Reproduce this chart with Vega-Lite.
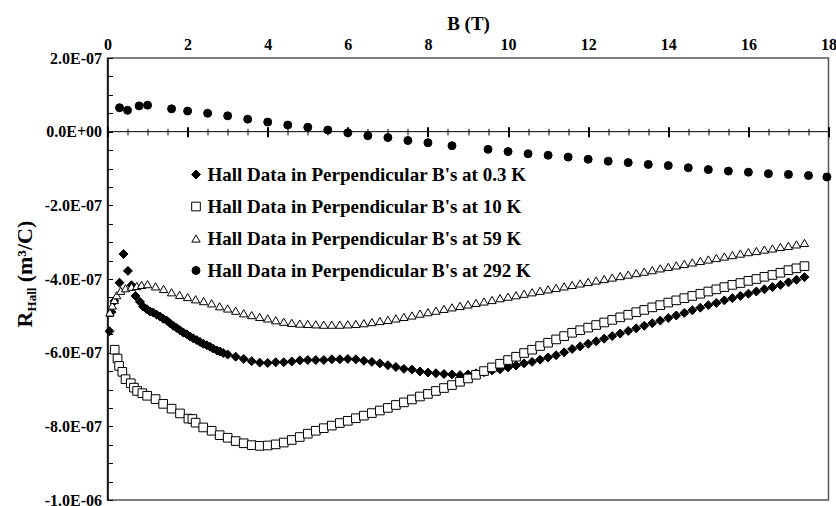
{
"$schema": "https://vega.github.io/schema/vega-lite/v6.json",
"width": 721, "height": 442,
"autosize": {"type": "none"},
"padding": {"left": 107.5, "top": 58, "right": 7.5, "bottom": 6},
"config": {
 "font": "Liberation Serif",
 "view": {"stroke": "#555555", "strokeWidth": 1.5},
 "axis": {"labelFont": "Liberation Serif", "titleFont": "Liberation Serif", "labelFontWeight": "bold", "titleFontWeight": "bold", "labelColor": "black", "titleColor": "black", "labelFontSize": 16, "titleFontSize": 19, "grid": false},
 "legend": {"labelFont": "Liberation Serif", "labelFontWeight": "bold", "labelFontSize": 19, "labelColor": "black", "symbolStrokeWidth": 1, "rowPadding": 12, "labelOffset": 2, "labelLimit": 600}
},
"data": {"values": [
{"s":"0.3 K","B":0.05,"R":-5.42e-7},{"s":"0.3 K","B":0.10,"R":-4.90e-7},{"s":"0.3 K","B":0.17,"R":-4.60e-7},{"s":"0.3 K","B":0.30,"R":-4.10e-7},{"s":"0.3 K","B":0.40,"R":-3.32e-7},{"s":"0.3 K","B":0.51,"R":-3.78e-7},{"s":"0.3 K","B":0.60,"R":-4.17e-7},{"s":"0.3 K","B":0.70,"R":-4.46e-7},{"s":"0.3 K","B":0.81,"R":-4.62e-7},{"s":"0.3 K","B":0.89,"R":-4.75e-7},{"s":"0.3 K","B":0.98,"R":-4.82e-7},{"s":"0.3 K","B":1.06,"R":-4.88e-7},{"s":"0.3 K","B":1.14,"R":-4.91e-7},{"s":"0.3 K","B":1.23,"R":-4.97e-7},{"s":"0.3 K","B":1.31,"R":-5.02e-7},{"s":"0.3 K","B":1.39,"R":-5.08e-7},{"s":"0.3 K","B":1.48,"R":-5.13e-7},{"s":"0.3 K","B":1.56,"R":-5.20e-7},{"s":"0.3 K","B":1.64,"R":-5.27e-7},{"s":"0.3 K","B":1.73,"R":-5.33e-7},{"s":"0.3 K","B":1.81,"R":-5.39e-7},{"s":"0.3 K","B":1.89,"R":-5.45e-7},{"s":"0.3 K","B":1.98,"R":-5.50e-7},{"s":"0.3 K","B":2.06,"R":-5.56e-7},{"s":"0.3 K","B":2.14,"R":-5.61e-7},{"s":"0.3 K","B":2.23,"R":-5.66e-7},{"s":"0.3 K","B":2.31,"R":-5.71e-7},{"s":"0.3 K","B":2.39,"R":-5.76e-7},{"s":"0.3 K","B":2.48,"R":-5.80e-7},{"s":"0.3 K","B":2.56,"R":-5.84e-7},{"s":"0.3 K","B":2.64,"R":-5.89e-7},{"s":"0.3 K","B":2.73,"R":-5.94e-7},{"s":"0.3 K","B":2.81,"R":-5.97e-7},{"s":"0.3 K","B":2.89,"R":-6.01e-7},{"s":"0.3 K","B":3.0,"R":-6.05e-7},{"s":"0.3 K","B":3.2,"R":-6.11e-7},{"s":"0.3 K","B":3.4,"R":-6.17e-7},{"s":"0.3 K","B":3.6,"R":-6.23e-7},{"s":"0.3 K","B":3.8,"R":-6.27e-7},{"s":"0.3 K","B":4.0,"R":-6.28e-7},{"s":"0.3 K","B":4.2,"R":-6.26e-7},{"s":"0.3 K","B":4.4,"R":-6.26e-7},{"s":"0.3 K","B":4.6,"R":-6.24e-7},{"s":"0.3 K","B":4.8,"R":-6.21e-7},{"s":"0.3 K","B":5.0,"R":-6.20e-7},{"s":"0.3 K","B":5.2,"R":-6.20e-7},{"s":"0.3 K","B":5.4,"R":-6.20e-7},{"s":"0.3 K","B":5.6,"R":-6.18e-7},{"s":"0.3 K","B":5.8,"R":-6.18e-7},{"s":"0.3 K","B":6.0,"R":-6.17e-7},{"s":"0.3 K","B":6.2,"R":-6.18e-7},{"s":"0.3 K","B":6.4,"R":-6.22e-7},{"s":"0.3 K","B":6.6,"R":-6.25e-7},{"s":"0.3 K","B":6.8,"R":-6.29e-7},{"s":"0.3 K","B":7.0,"R":-6.34e-7},{"s":"0.3 K","B":7.2,"R":-6.39e-7},{"s":"0.3 K","B":7.4,"R":-6.44e-7},{"s":"0.3 K","B":7.6,"R":-6.46e-7},{"s":"0.3 K","B":7.8,"R":-6.51e-7},{"s":"0.3 K","B":8.0,"R":-6.54e-7},{"s":"0.3 K","B":8.2,"R":-6.56e-7},{"s":"0.3 K","B":8.4,"R":-6.58e-7},{"s":"0.3 K","B":8.6,"R":-6.59e-7},{"s":"0.3 K","B":8.8,"R":-6.61e-7},{"s":"0.3 K","B":9.0,"R":-6.59e-7},{"s":"0.3 K","B":9.2,"R":-6.56e-7},{"s":"0.3 K","B":9.4,"R":-6.53e-7},{"s":"0.3 K","B":9.6,"R":-6.48e-7},{"s":"0.3 K","B":9.8,"R":-6.45e-7},{"s":"0.3 K","B":10.0,"R":-6.40e-7},{"s":"0.3 K","B":10.2,"R":-6.35e-7},{"s":"0.3 K","B":10.4,"R":-6.29e-7},{"s":"0.3 K","B":10.6,"R":-6.25e-7},{"s":"0.3 K","B":10.8,"R":-6.19e-7},{"s":"0.3 K","B":11.0,"R":-6.13e-7},{"s":"0.3 K","B":11.2,"R":-6.07e-7},{"s":"0.3 K","B":11.4,"R":-5.99e-7},{"s":"0.3 K","B":11.6,"R":-5.90e-7},{"s":"0.3 K","B":11.8,"R":-5.83e-7},{"s":"0.3 K","B":12.0,"R":-5.76e-7},{"s":"0.3 K","B":12.2,"R":-5.69e-7},{"s":"0.3 K","B":12.4,"R":-5.62e-7},{"s":"0.3 K","B":12.6,"R":-5.55e-7},{"s":"0.3 K","B":12.8,"R":-5.48e-7},{"s":"0.3 K","B":13.0,"R":-5.41e-7},{"s":"0.3 K","B":13.2,"R":-5.34e-7},{"s":"0.3 K","B":13.4,"R":-5.27e-7},{"s":"0.3 K","B":13.6,"R":-5.20e-7},{"s":"0.3 K","B":13.8,"R":-5.13e-7},{"s":"0.3 K","B":14.0,"R":-5.06e-7},{"s":"0.3 K","B":14.2,"R":-4.99e-7},{"s":"0.3 K","B":14.4,"R":-4.92e-7},{"s":"0.3 K","B":14.6,"R":-4.85e-7},{"s":"0.3 K","B":14.8,"R":-4.78e-7},{"s":"0.3 K","B":15.0,"R":-4.71e-7},{"s":"0.3 K","B":15.2,"R":-4.65e-7},{"s":"0.3 K","B":15.4,"R":-4.58e-7},{"s":"0.3 K","B":15.6,"R":-4.52e-7},{"s":"0.3 K","B":15.8,"R":-4.46e-7},{"s":"0.3 K","B":16.0,"R":-4.40e-7},{"s":"0.3 K","B":16.2,"R":-4.34e-7},{"s":"0.3 K","B":16.4,"R":-4.28e-7},{"s":"0.3 K","B":16.6,"R":-4.22e-7},{"s":"0.3 K","B":16.8,"R":-4.16e-7},{"s":"0.3 K","B":17.0,"R":-4.09e-7},{"s":"0.3 K","B":17.2,"R":-4.02e-7},{"s":"0.3 K","B":17.4,"R":-3.95e-7},
{"s":"10 K","B":0.18,"R":-5.92e-7},{"s":"10 K","B":0.25,"R":-6.16e-7},{"s":"10 K","B":0.29,"R":-6.36e-7},{"s":"10 K","B":0.37,"R":-6.52e-7},{"s":"10 K","B":0.45,"R":-6.72e-7},{"s":"10 K","B":0.58,"R":-6.83e-7},{"s":"10 K","B":0.66,"R":-6.95e-7},{"s":"10 K","B":0.74,"R":-7.04e-7},{"s":"10 K","B":0.87,"R":-7.10e-7},{"s":"10 K","B":0.99,"R":-7.17e-7},{"s":"10 K","B":1.2,"R":-7.26e-7},{"s":"10 K","B":1.39,"R":-7.39e-7},{"s":"10 K","B":1.6,"R":-7.52e-7},{"s":"10 K","B":1.81,"R":-7.65e-7},{"s":"10 K","B":2.02,"R":-7.79e-7},{"s":"10 K","B":2.12,"R":-7.80e-7},{"s":"10 K","B":2.2,"R":-7.90e-7},{"s":"10 K","B":2.39,"R":-8.03e-7},{"s":"10 K","B":2.6,"R":-8.12e-7},{"s":"10 K","B":2.8,"R":-8.24e-7},{"s":"10 K","B":3.0,"R":-8.31e-7},{"s":"10 K","B":3.2,"R":-8.40e-7},{"s":"10 K","B":3.4,"R":-8.46e-7},{"s":"10 K","B":3.6,"R":-8.51e-7},{"s":"10 K","B":3.8,"R":-8.53e-7},{"s":"10 K","B":4.0,"R":-8.52e-7},{"s":"10 K","B":4.2,"R":-8.49e-7},{"s":"10 K","B":4.4,"R":-8.44e-7},{"s":"10 K","B":4.6,"R":-8.37e-7},{"s":"10 K","B":4.8,"R":-8.29e-7},{"s":"10 K","B":5.0,"R":-8.20e-7},{"s":"10 K","B":5.2,"R":-8.12e-7},{"s":"10 K","B":5.4,"R":-8.05e-7},{"s":"10 K","B":5.6,"R":-7.98e-7},{"s":"10 K","B":5.8,"R":-7.91e-7},{"s":"10 K","B":6.0,"R":-7.85e-7},{"s":"10 K","B":6.2,"R":-7.78e-7},{"s":"10 K","B":6.4,"R":-7.71e-7},{"s":"10 K","B":6.6,"R":-7.64e-7},{"s":"10 K","B":6.8,"R":-7.57e-7},{"s":"10 K","B":7.0,"R":-7.50e-7},{"s":"10 K","B":7.2,"R":-7.42e-7},{"s":"10 K","B":7.4,"R":-7.35e-7},{"s":"10 K","B":7.6,"R":-7.27e-7},{"s":"10 K","B":7.8,"R":-7.19e-7},{"s":"10 K","B":8.0,"R":-7.12e-7},{"s":"10 K","B":8.2,"R":-7.04e-7},{"s":"10 K","B":8.4,"R":-6.96e-7},{"s":"10 K","B":8.6,"R":-6.88e-7},{"s":"10 K","B":8.8,"R":-6.79e-7},{"s":"10 K","B":9.0,"R":-6.70e-7},{"s":"10 K","B":9.2,"R":-6.60e-7},{"s":"10 K","B":9.4,"R":-6.50e-7},{"s":"10 K","B":9.6,"R":-6.40e-7},{"s":"10 K","B":9.8,"R":-6.30e-7},{"s":"10 K","B":10.0,"R":-6.20e-7},{"s":"10 K","B":10.2,"R":-6.11e-7},{"s":"10 K","B":10.4,"R":-6.01e-7},{"s":"10 K","B":10.6,"R":-5.92e-7},{"s":"10 K","B":10.8,"R":-5.82e-7},{"s":"10 K","B":11.0,"R":-5.73e-7},{"s":"10 K","B":11.2,"R":-5.64e-7},{"s":"10 K","B":11.4,"R":-5.55e-7},{"s":"10 K","B":11.6,"R":-5.46e-7},{"s":"10 K","B":11.8,"R":-5.39e-7},{"s":"10 K","B":12.0,"R":-5.32e-7},{"s":"10 K","B":12.2,"R":-5.25e-7},{"s":"10 K","B":12.4,"R":-5.18e-7},{"s":"10 K","B":12.6,"R":-5.11e-7},{"s":"10 K","B":12.8,"R":-5.04e-7},{"s":"10 K","B":13.0,"R":-4.97e-7},{"s":"10 K","B":13.2,"R":-4.90e-7},{"s":"10 K","B":13.4,"R":-4.84e-7},{"s":"10 K","B":13.6,"R":-4.77e-7},{"s":"10 K","B":13.8,"R":-4.71e-7},{"s":"10 K","B":14.0,"R":-4.64e-7},{"s":"10 K","B":14.2,"R":-4.58e-7},{"s":"10 K","B":14.4,"R":-4.52e-7},{"s":"10 K","B":14.6,"R":-4.46e-7},{"s":"10 K","B":14.8,"R":-4.40e-7},{"s":"10 K","B":15.0,"R":-4.34e-7},{"s":"10 K","B":15.2,"R":-4.28e-7},{"s":"10 K","B":15.4,"R":-4.22e-7},{"s":"10 K","B":15.6,"R":-4.16e-7},{"s":"10 K","B":15.8,"R":-4.11e-7},{"s":"10 K","B":16.0,"R":-4.05e-7},{"s":"10 K","B":16.2,"R":-4.00e-7},{"s":"10 K","B":16.4,"R":-3.94e-7},{"s":"10 K","B":16.6,"R":-3.89e-7},{"s":"10 K","B":16.8,"R":-3.83e-7},{"s":"10 K","B":17.0,"R":-3.76e-7},{"s":"10 K","B":17.2,"R":-3.71e-7},{"s":"10 K","B":17.4,"R":-3.65e-7},
{"s":"59 K","B":0.06,"R":-4.91e-7},{"s":"59 K","B":0.12,"R":-4.72e-7},{"s":"59 K","B":0.17,"R":-4.57e-7},{"s":"59 K","B":0.23,"R":-4.44e-7},{"s":"59 K","B":0.33,"R":-4.32e-7},{"s":"59 K","B":0.45,"R":-4.25e-7},{"s":"59 K","B":0.6,"R":-4.21e-7},{"s":"59 K","B":0.73,"R":-4.19e-7},{"s":"59 K","B":0.85,"R":-4.16e-7},{"s":"59 K","B":1.0,"R":-4.14e-7},{"s":"59 K","B":1.2,"R":-4.20e-7},{"s":"59 K","B":1.4,"R":-4.27e-7},{"s":"59 K","B":1.6,"R":-4.36e-7},{"s":"59 K","B":1.8,"R":-4.43e-7},{"s":"59 K","B":2.0,"R":-4.49e-7},{"s":"59 K","B":2.2,"R":-4.55e-7},{"s":"59 K","B":2.4,"R":-4.60e-7},{"s":"59 K","B":2.6,"R":-4.66e-7},{"s":"59 K","B":2.8,"R":-4.74e-7},{"s":"59 K","B":3.0,"R":-4.80e-7},{"s":"59 K","B":3.2,"R":-4.86e-7},{"s":"59 K","B":3.4,"R":-4.93e-7},{"s":"59 K","B":3.6,"R":-4.98e-7},{"s":"59 K","B":3.8,"R":-5.03e-7},{"s":"59 K","B":4.0,"R":-5.07e-7},{"s":"59 K","B":4.2,"R":-5.12e-7},{"s":"59 K","B":4.4,"R":-5.16e-7},{"s":"59 K","B":4.6,"R":-5.19e-7},{"s":"59 K","B":4.8,"R":-5.21e-7},{"s":"59 K","B":5.0,"R":-5.22e-7},{"s":"59 K","B":5.2,"R":-5.23e-7},{"s":"59 K","B":5.4,"R":-5.24e-7},{"s":"59 K","B":5.6,"R":-5.24e-7},{"s":"59 K","B":5.8,"R":-5.24e-7},{"s":"59 K","B":6.0,"R":-5.23e-7},{"s":"59 K","B":6.2,"R":-5.22e-7},{"s":"59 K","B":6.4,"R":-5.20e-7},{"s":"59 K","B":6.6,"R":-5.17e-7},{"s":"59 K","B":6.8,"R":-5.14e-7},{"s":"59 K","B":7.0,"R":-5.11e-7},{"s":"59 K","B":7.2,"R":-5.07e-7},{"s":"59 K","B":7.4,"R":-5.03e-7},{"s":"59 K","B":7.6,"R":-4.99e-7},{"s":"59 K","B":7.8,"R":-4.94e-7},{"s":"59 K","B":8.0,"R":-4.90e-7},{"s":"59 K","B":8.2,"R":-4.86e-7},{"s":"59 K","B":8.4,"R":-4.81e-7},{"s":"59 K","B":8.6,"R":-4.77e-7},{"s":"59 K","B":8.8,"R":-4.73e-7},{"s":"59 K","B":9.0,"R":-4.69e-7},{"s":"59 K","B":9.2,"R":-4.65e-7},{"s":"59 K","B":9.4,"R":-4.61e-7},{"s":"59 K","B":9.6,"R":-4.57e-7},{"s":"59 K","B":9.8,"R":-4.52e-7},{"s":"59 K","B":10.0,"R":-4.48e-7},{"s":"59 K","B":10.2,"R":-4.44e-7},{"s":"59 K","B":10.4,"R":-4.40e-7},{"s":"59 K","B":10.6,"R":-4.36e-7},{"s":"59 K","B":10.8,"R":-4.32e-7},{"s":"59 K","B":11.0,"R":-4.28e-7},{"s":"59 K","B":11.2,"R":-4.24e-7},{"s":"59 K","B":11.4,"R":-4.20e-7},{"s":"59 K","B":11.6,"R":-4.16e-7},{"s":"59 K","B":11.8,"R":-4.12e-7},{"s":"59 K","B":12.0,"R":-4.08e-7},{"s":"59 K","B":12.2,"R":-4.04e-7},{"s":"59 K","B":12.4,"R":-4.00e-7},{"s":"59 K","B":12.6,"R":-3.96e-7},{"s":"59 K","B":12.8,"R":-3.92e-7},{"s":"59 K","B":13.0,"R":-3.88e-7},{"s":"59 K","B":13.2,"R":-3.84e-7},{"s":"59 K","B":13.4,"R":-3.80e-7},{"s":"59 K","B":13.6,"R":-3.76e-7},{"s":"59 K","B":13.8,"R":-3.71e-7},{"s":"59 K","B":14.0,"R":-3.67e-7},{"s":"59 K","B":14.2,"R":-3.63e-7},{"s":"59 K","B":14.4,"R":-3.59e-7},{"s":"59 K","B":14.6,"R":-3.55e-7},{"s":"59 K","B":14.8,"R":-3.51e-7},{"s":"59 K","B":15.0,"R":-3.47e-7},{"s":"59 K","B":15.2,"R":-3.43e-7},{"s":"59 K","B":15.4,"R":-3.39e-7},{"s":"59 K","B":15.6,"R":-3.35e-7},{"s":"59 K","B":15.8,"R":-3.31e-7},{"s":"59 K","B":16.0,"R":-3.27e-7},{"s":"59 K","B":16.2,"R":-3.24e-7},{"s":"59 K","B":16.4,"R":-3.20e-7},{"s":"59 K","B":16.6,"R":-3.17e-7},{"s":"59 K","B":16.8,"R":-3.13e-7},{"s":"59 K","B":17.0,"R":-3.10e-7},{"s":"59 K","B":17.2,"R":-3.06e-7},{"s":"59 K","B":17.4,"R":-3.02e-7},
{"s":"292 K","B":0.3,"R":6.5e-8},{"s":"292 K","B":0.5,"R":5.8e-8},{"s":"292 K","B":0.79,"R":7.0e-8},{"s":"292 K","B":1.0,"R":7.2e-8},{"s":"292 K","B":1.6,"R":6.2e-8},{"s":"292 K","B":2.0,"R":5.6e-8},{"s":"292 K","B":2.5,"R":5.0e-8},{"s":"292 K","B":3.0,"R":4.3e-8},{"s":"292 K","B":3.5,"R":3.4e-8},{"s":"292 K","B":4.0,"R":2.6e-8},{"s":"292 K","B":4.5,"R":1.8e-8},{"s":"292 K","B":5.0,"R":1.2e-8},{"s":"292 K","B":5.5,"R":4.5e-9},{"s":"292 K","B":6.0,"R":-3e-9},{"s":"292 K","B":6.5,"R":-1.1e-8},{"s":"292 K","B":7.0,"R":-1.6e-8},{"s":"292 K","B":7.5,"R":-2.4e-8},{"s":"292 K","B":8.0,"R":-3.0e-8},{"s":"292 K","B":8.6,"R":-3.8e-8},{"s":"292 K","B":9.5,"R":-4.8e-8},{"s":"292 K","B":10.0,"R":-5.4e-8},{"s":"292 K","B":10.5,"R":-6.0e-8},{"s":"292 K","B":11.0,"R":-6.4e-8},{"s":"292 K","B":11.5,"R":-6.9e-8},{"s":"292 K","B":12.0,"R":-7.5e-8},{"s":"292 K","B":12.5,"R":-8.0e-8},{"s":"292 K","B":13.0,"R":-8.4e-8},{"s":"292 K","B":13.5,"R":-8.9e-8},{"s":"292 K","B":14.0,"R":-9.2e-8},{"s":"292 K","B":14.5,"R":-9.8e-8},{"s":"292 K","B":15.0,"R":-1.03e-7},{"s":"292 K","B":15.5,"R":-1.07e-7},{"s":"292 K","B":16.0,"R":-1.10e-7},{"s":"292 K","B":16.5,"R":-1.14e-7},{"s":"292 K","B":17.0,"R":-1.16e-7},{"s":"292 K","B":17.5,"R":-1.19e-7},{"s":"292 K","B":17.96,"R":-1.23e-7}
]},
"layer": [
 {
  "mark": {"type": "point", "filled": true, "strokeWidth": 1, "opacity": 1},
  "encoding": {
   "x": {"field": "B", "type": "quantitative", "scale": {"domain": [0, 18], "nice": false, "zero": false},
    "axis": {"orient": "top", "title": "B (T)", "values": [0,2,4,6,8,10,12,14,16,18], "ticks": false, "domain": false, "labelPadding": 6, "titlePadding": 3, "labelFlush": false, "labelOverlap": false}},
   "y": {"field": "R", "type": "quantitative", "scale": {"domain": [-1e-6, 2e-7], "nice": false, "zero": false},
    "axis": {"orient": "left", "values": [-1e-6,-9.5e-7,-9e-7,-8.5e-7,-8e-7,-7.5e-7,-7e-7,-6.5e-7,-6e-7,-5.5e-7,-5e-7,-4.5e-7,-4e-7,-3.5e-7,-3e-7,-2.5e-7,-2e-7,-1.5e-7,-1e-7,-5e-8,0,5e-8,1e-7,1.5e-7,2e-7],
     "tickSize": -5, "tickColor": "black", "tickWidth": 1, "domainColor": "black", "domainWidth": 1.5, "labelPadding": 11, "labelFlush": false, "labelOverlap": false,
     "labelExpr": "abs(datum.value / 0.0000002 - round(datum.value / 0.0000002)) < 0.01 ? (datum.value < 0 ? '-' : '') + replace(replace(upper(format(abs(datum.value), '.1e')), 'E-', 'E-0'), 'E+', 'E+0') : ''",
     "title": "R", "titleFontSize": 22, "titleX": -75.8, "titleY": 261, "titleAngle": 270, "titleAlign": "center", "titleBaseline": "alphabetic"}},
   "shape": {"field": "s", "type": "nominal", "scale": {"domain": ["0.3 K","10 K","59 K","292 K"], "range": ["diamond","square","triangle-up","circle"]},
    "legend": {"title": null, "orient": "none", "legendX": 79, "legendY": 107, "padding": 0, "labelExpr": "'Hall Data in Perpendicular B\\'s at ' + datum.label"}},
   "fill": {"field": "s", "type": "nominal", "scale": {"domain": ["0.3 K","10 K","59 K","292 K"], "range": ["black","white","white","black"]},
    "legend": {"title": null, "orient": "none", "legendX": 79, "legendY": 107, "padding": 0, "labelExpr": "'Hall Data in Perpendicular B\\'s at ' + datum.label"}},
   "stroke": {"field": "s", "type": "nominal", "scale": {"domain": ["0.3 K","10 K","59 K","292 K"], "range": ["black","black","black","black"]},
    "legend": {"title": null, "orient": "none", "legendX": 79, "legendY": 107, "padding": 0, "labelExpr": "'Hall Data in Perpendicular B\\'s at ' + datum.label"}},
   "size": {"field": "s", "type": "nominal", "scale": {"domain": ["0.3 K","10 K","59 K","292 K"], "range": [80, 64, 90, 70]},
    "legend": {"title": null, "orient": "none", "legendX": 79, "legendY": 107, "padding": 0, "labelExpr": "'Hall Data in Perpendicular B\\'s at ' + datum.label"}}
  }
 },
 {
  "data": {"values": [{}]},
  "mark": {"type": "rule", "color": "black", "strokeWidth": 1},
  "encoding": {"y": {"datum": 0, "type": "quantitative", "axis": null}}
 },
 {
  "mark": {"type": "point", "opacity": 0},
  "encoding": {"x": {"field": "B", "type": "quantitative",
   "axis": {"orient": "bottom", "offset": -373.33, "values": [0,2,4,6,8,10,12,14,16,18], "tickSize": 10, "tickWidth": 2, "tickColor": "black", "labels": false, "domain": false, "title": null}}}
 },
 {
  "mark": {"type": "point", "opacity": 0},
  "encoding": {"x": {"field": "B", "type": "quantitative",
   "axis": {"orient": "bottom", "offset": -371.67, "values": [0.5,1,1.5,2.5,3,3.5,4.5,5,5.5,6.5,7,7.5,8.5,9,9.5,10.5,11,11.5,12.5,13,13.5,14.5,15,15.5,16.5,17,17.5], "tickSize": 6.67, "tickWidth": 1, "tickColor": "black", "labels": false, "domain": false, "title": null}}}
 },
 {
  "mark": {"type": "point", "opacity": 0},
  "encoding": {"y": {"field": "R", "type": "quantitative",
   "axis": {"orient": "left", "labels": false, "ticks": false, "domain": false, "title": "Hall", "titleFontSize": 13, "titleX": -72, "titleY": 241, "titleAngle": 270, "titleAlign": "center", "titleBaseline": "alphabetic"}}}
 },
 {
  "mark": {"type": "point", "opacity": 0},
  "encoding": {"y": {"field": "R", "type": "quantitative",
   "axis": {"orient": "left", "labels": false, "ticks": false, "domain": false, "title": "(m³/C)", "titleFontSize": 22, "titleX": -75.8, "titleY": 193, "titleAngle": 270, "titleAlign": "center", "titleBaseline": "alphabetic"}}}
 }
],
"resolve": {"axis": {"x": "independent", "y": "independent"}}
}
